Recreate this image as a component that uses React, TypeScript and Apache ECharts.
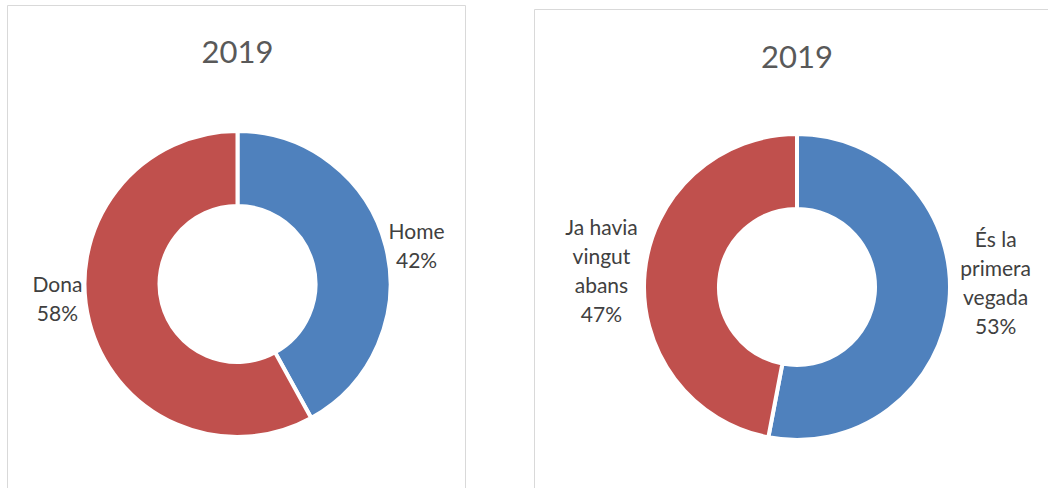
import React, { useEffect, useRef } from "react";
import * as echarts from "echarts";

const leftTitle = "2019";
const rightTitle = "2019";
const genderCategories = ["Home", "Dona"];
const genderValues = [42, 58];
const visitCategories = ["És la\nprimera\nvegada", "Ja havia\nvingut\nabans"];
const visitValues = [53, 47];
const sliceColors = ["#4f81bd", "#c0504d"];

// small nudges of data labels (dx, dy) to mimic Excel's best-fit placement
const leftLabelNudges = [[0, 0], [-4, -25]];
const rightLabelNudges = [[8, -20], [-4, -2]];

const FONT = "Lato";

const labelFormatter = (p: any) =>
  String(p.name)
    .split("\n")
    .concat(Math.round(p.percent) + "%")
    .map((s: string) => `{t|${s}}`)
    .join("\n");

function pieSeries(names: string[], values: number[], center: number[], nudges: number[][]) {
  return {
    type: "pie",
    center,
    radius: [78, 153],
    startAngle: 90,
    clockwise: true,
    avoidLabelOverlap: false,
    silent: true,
    itemStyle: { borderColor: "#ffffff", borderWidth: 4 },
    label: {
      show: true,
      position: "outside",
      distanceToLabelLine: 0,
      formatter: labelFormatter,
      rich: {
        t: { fontSize: 21, lineHeight: 29, color: "#404040", align: "center", fontFamily: FONT },
      },
    },
    labelLine: { show: false, length: 3, length2: 0 },
    labelLayout: (params: any) => ({
      dx: nudges[params.dataIndex][0],
      dy: nudges[params.dataIndex][1],
    }),
    data: names.map((n, i) => ({ name: n, value: values[i], itemStyle: { color: sliceColors[i] } })),
  };
}

export default function App() {
  const ref = useRef<HTMLDivElement>(null);
  useEffect(() => {
    if (!ref.current) return;
    const chart = echarts.init(ref.current, null, { renderer: "svg" });
    chart.setOption({
      animation: false,
      backgroundColor: "#ffffff",
      graphic: [
        { type: "rect", shape: { x: 7.5, y: 5.5, width: 458, height: 600 }, style: { fill: "none", stroke: "#d9d9d9", lineWidth: 1 }, z: -1 },
        { type: "rect", shape: { x: 534.5, y: 9.5, width: 600, height: 600 }, style: { fill: "none", stroke: "#d9d9d9", lineWidth: 1 }, z: -1 },
        { type: "text", x: 237.5, y: 51, style: { text: leftTitle, align: "center", verticalAlign: "middle", fontSize: 31, fontFamily: FONT, fill: "#595959" } },
        { type: "text", x: 797, y: 56, style: { text: rightTitle, align: "center", verticalAlign: "middle", fontSize: 31, fontFamily: FONT, fill: "#595959" } },
      ],
      series: [
        pieSeries(genderCategories, genderValues, [237.5, 284], leftLabelNudges),
        pieSeries(visitCategories, visitValues, [797, 287], rightLabelNudges),
      ],
    });
    return () => chart.dispose();
  }, []);
  return (
    <div
      ref={ref}
      style={{ position: "absolute", left: 0, top: 0, width: 1048, height: 488, background: "#fff" }}
    />
  );
}
